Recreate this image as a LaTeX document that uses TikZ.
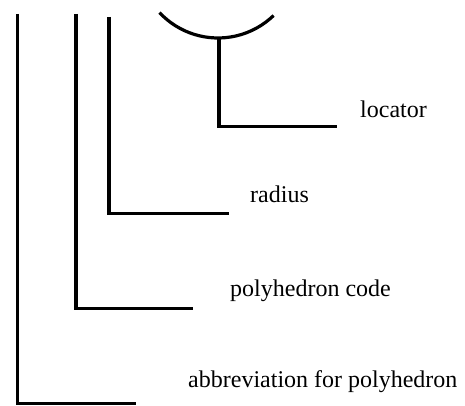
\documentclass[tikz,border=0pt]{standalone}
\usepackage{fontspec}
\setmainfont{Liberation Serif}
\usetikzlibrary{calc}
\begin{document}
\begin{tikzpicture}[x=1pt,y=1pt,
  lead/.style={line width=3.2pt,line join=miter,line cap=butt},
  lbl/.style={anchor=base west,inner sep=0pt,font=\fontsize{24}{28}\selectfont}]
\useasboundingbox (0,0) rectangle (465,406);
% corner coordinates
\coordinate (t1) at (17.5,392);
\coordinate (c1) at (17.5,2.5);
\coordinate (e1) at (136,2.5);
\coordinate (t2) at (76,392);
\coordinate (c2) at (76,97.7);
\coordinate (e2) at (193,97.7);
\coordinate (t3) at (109,389);
\coordinate (c3) at (109,192.7);
\coordinate (e3) at (229,192.7);
\coordinate (ac) at (218,448);
\coordinate (as) at ($(ac)+(223:80)$);
\coordinate (t4) at (219,368);
\coordinate (c4) at (219,279.3);
\coordinate (e4) at (337,279.3);
% arc
\draw[lead] (as) arc[start angle=223,end angle=314,radius=80];
% leaders
\draw[lead] (t1) -- (c1) -- (e1);
\draw[lead] (t2) -- (c2) -- (e2);
\draw[lead] (t3) -- (c3) -- (e3);
\draw[lead] (t4) -- (c4) -- (e4);
% labels
\node[lbl] (loc) at (360,288) {locator};
\node[lbl] (rad) at (250,203) {radius};
\node[lbl] (pc) at (230,109) {polyhedron code};
\node[lbl] (abb) at (188,18) {abbreviation for polyhedron};
\end{tikzpicture}
\end{document}
